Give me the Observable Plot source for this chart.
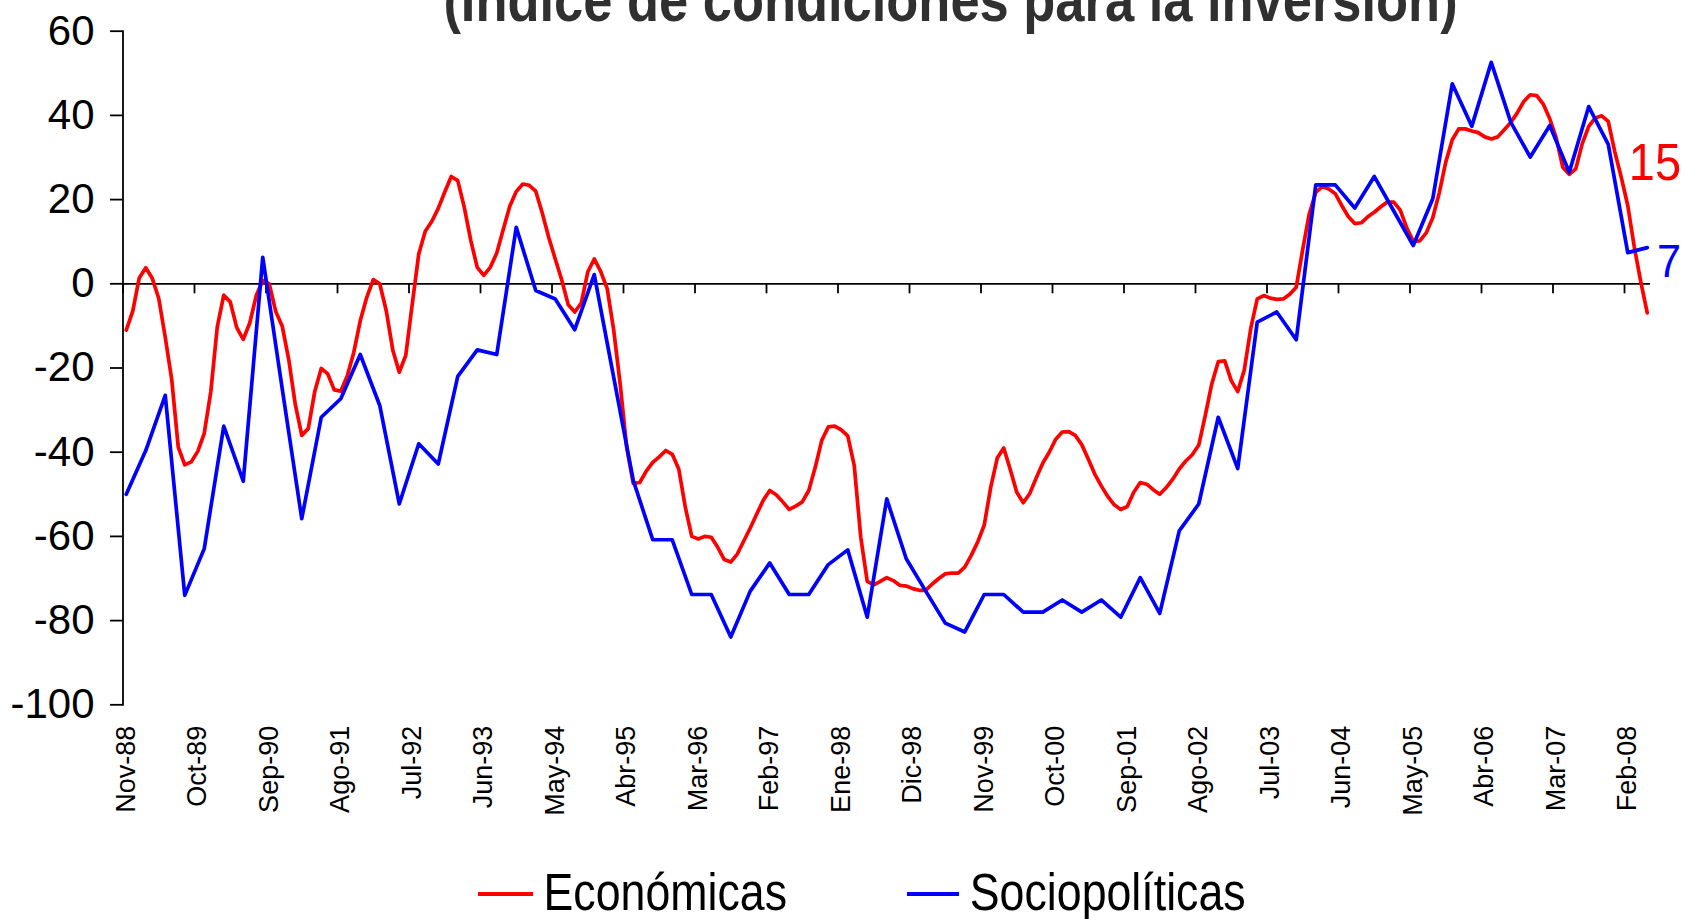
<!DOCTYPE html>
<html><head><meta charset="utf-8">
<script src="https://cdn.jsdelivr.net/npm/d3@7"></script>
<script src="https://cdn.jsdelivr.net/npm/@observablehq/plot@0.6"></script>
<style>
html,body{margin:0;padding:0;background:#fff;}
#wrap{position:relative;width:1684px;height:919px;overflow:hidden;font-family:"Liberation Sans",Arial,sans-serif;}
#chart{position:absolute;left:0;top:0;}
#overlay{position:absolute;left:0;top:0;pointer-events:none;font-family:"Liberation Sans",Arial,sans-serif;}
</style></head>
<body><div id="wrap"><div id="chart"></div>
<svg id="overlay" width="1684" height="919">
  <text transform="translate(950.5 21) scale(0.86 1)" text-anchor="middle" font-size="61" font-weight="bold" fill="#303030">(Índice de condiciones para la inversión)</text>
  <line x1="478" x2="533" y1="894" y2="894" stroke="#ff0000" stroke-width="4"/>
  <text transform="translate(543.5 910) scale(0.86 1)" font-size="52" fill="#000">Económicas</text>
  <line x1="907" x2="959" y1="894" y2="894" stroke="#0000ff" stroke-width="4"/>
  <text transform="translate(969.8 910) scale(0.86 1)" font-size="52" fill="#000">Sociopolíticas</text>
  <text transform="translate(1681 180) scale(0.92 1)" text-anchor="end" font-size="51" fill="#ff0000">15</text>
  <text transform="translate(1681 276.7) scale(0.92 1)" text-anchor="end" font-size="47" fill="#0000ff">7</text>
</svg>
</div>
<script>
// Category labels shown on the x axis (every 11 months from Nov-88)
const tickLabels = ["Nov-88","Oct-89","Sep-90","Ago-91","Jul-92","Jun-93","May-94","Abr-95","Mar-96","Feb-97","Ene-98","Dic-98","Nov-99","Oct-00","Sep-01","Ago-02","Jul-03","Jun-04","May-05","Abr-06","Mar-07","Feb-08"];
const labelStep = 11;

// Económicas: monthly, Nov-88 .. May-08
const economicas = [
 -11, -6.5, 1.4, 3.8, 1.3, -3.5, -12.7, -22.8, -38.8, -43,
 -42.3, -39.8, -35.5, -25.7, -10.3, -2.7, -4.3, -10.4, -13.2, -9.3,
 -2.8, 0.8, 0, -6.6, -10.1, -18, -28.6, -36, -34.4, -25.6,
 -20.1, -21.4, -25.2, -25.5, -21.9, -16.3, -8.8, -3.2, 1.0, 0.0,
 -6.4, -15.7, -21, -17, -4.8, 7.1, 12.5, 14.8, 17.9, 21.8,
 25.5, 24.5, 18.2, 10.3, 3.9, 2.0, 3.9, 7.3, 12.9, 18.4,
 21.9, 23.7, 23.4, 22, 16.8, 11, 5.9, 0.9, -5.0, -6.7,
 -4.6, 2.8, 5.9, 2.9, -1.2, -11.1, -24, -39, -47.4, -47.2,
 -44.5, -42.4, -41.1, -39.6, -40.5, -44, -53, -60, -60.6, -60,
 -60.2, -62.6, -65.5, -66.1, -64.2, -61.1, -58, -54.7, -51.4, -49.1,
 -50.1, -51.8, -53.6, -52.8, -51.8, -49.1, -43.6, -37.2, -34, -33.8,
 -34.7, -36.1, -43.2, -60.2, -70.7, -71.5, -70.7, -69.8, -70.5, -71.6,
 -71.8, -72.4, -72.8, -72.8, -71.3, -70, -68.9, -68.7, -68.7, -67.3,
 -64.5, -61.3, -57.3, -48.3, -41.4, -39, -44.1, -49.5, -52, -49.8,
 -46.1, -42.6, -40, -36.9, -35.2, -35.1, -36, -38.2, -41.6, -45.2,
 -48, -50.5, -52.5, -53.6, -52.9, -49.5, -47.2, -47.6, -48.9, -50,
 -48.4, -46.4, -44, -42.1, -40.6, -38.3, -31.3, -23.8, -18.5, -18.3,
 -23, -25.6, -20.5, -10.6, -3.6, -2.8, -3.4, -3.7, -3.6, -2.5,
 -0.8, 8.2, 16.6, 21.7, 23.1, 22.5, 21.4, 18.6, 16, 14.3,
 14.5, 15.9, 17, 18.3, 19.4, 19.4, 17.5, 13.3, 10.1, 10.2,
 12.1, 15.7, 21.6, 28.9, 34.2, 36.8, 36.8, 36.3, 35.9, 34.9,
 34.4, 34.9, 36.6, 38.3, 40.6, 43.3, 44.9, 44.7, 42.7, 39.2,
 34.6, 27.7, 26, 27.3, 33.3, 37.4, 39.4, 39.9, 38.6, 31.4,
 25.3, 18.6, 8.8, 0.5, -6.9
];

// Sociopolíticas: quarterly, Nov-88 .. May-08
const quarterStep = 3;
const sociopoliticas = [
 -50, -39.6, -26.5, -74, -62.9, -33.8, -46.9, 6.3, -25, -55.8,
 -31.7, -27.3, -16.8, -28.9, -52.3, -38, -42.8, -22, -15.7, -16.8,
 13.4, -1.6, -3.6, -10.9, 2.2, -22.3, -46.7, -60.8, -60.8, -73.8,
 -73.8, -83.9, -73, -66.3, -73.8, -73.8, -66.7, -63.2, -79.2, -51.1,
 -65.3, -73, -80.6, -82.7, -73.8, -73.8, -78, -78, -75.1, -78,
 -75.1, -79.2, -69.8, -78.3, -58.7, -52.3, -31.7, -43.9, -9.1, -6.7,
 -13.3, 23.5, 23.5, 18, 25.5, 17.3, 9.1, 20.2, 47.5, 37.4,
 52.6, 38.4, 30.1, 37.6, 26.5, 42.1, 33.1, 7.4, 8.6
];

const yTicks = [-100, -80, -60, -40, -20, 0, 20, 40, 60];

const redData = economicas.map((v, i) => ({m: i, v}));
const blueData = sociopoliticas.map((v, i) => ({m: i * quarterStep, v}));
const labelMonths = tickLabels.map((_, i) => i * labelStep);
const boundaryTicks = labelMonths.map(m => m - 0.5);

const chart = Plot.plot({
  width: 1684,
  height: 919,
  marginLeft: 122.5,
  marginRight: 34,
  marginTop: 30.7,
  marginBottom: 214.7,
  x: {domain: [-0.5, economicas.length - 0.5]},
  y: {domain: [-100, 60]},
  style: {fontFamily: '"Liberation Sans", Arial, sans-serif', color: "#000", background: "#fff"},
  marks: [
    Plot.axisY({ticks: yTicks, tickSize: 12.5, tickPadding: 16, fontSize: 42, tickFormat: d => String(d), strokeWidth: 1.8, label: null}),
    Plot.frame({anchor: "left", strokeWidth: 1.8}),
    Plot.axisX({ticks: labelMonths, tickFormat: d => tickLabels[Math.round(d / labelStep)], tickRotate: -90, tickSize: 0, tickPadding: 21, fontSize: 27, label: null}),
    Plot.ruleY([0], {strokeWidth: 1.8}),
    Plot.ruleX(boundaryTicks, {x: d => d, y1: () => 0, y2: () => 0, insetBottom: -10, strokeWidth: 1.8}),
    Plot.line(redData, {x: "m", y: "v", stroke: "#ff0000", strokeWidth: 3.7}),
    Plot.line(blueData, {x: "m", y: "v", stroke: "#0000ff", strokeWidth: 3.7})
  ]
});
document.getElementById("chart").appendChild(chart);
</script>
</body></html>
